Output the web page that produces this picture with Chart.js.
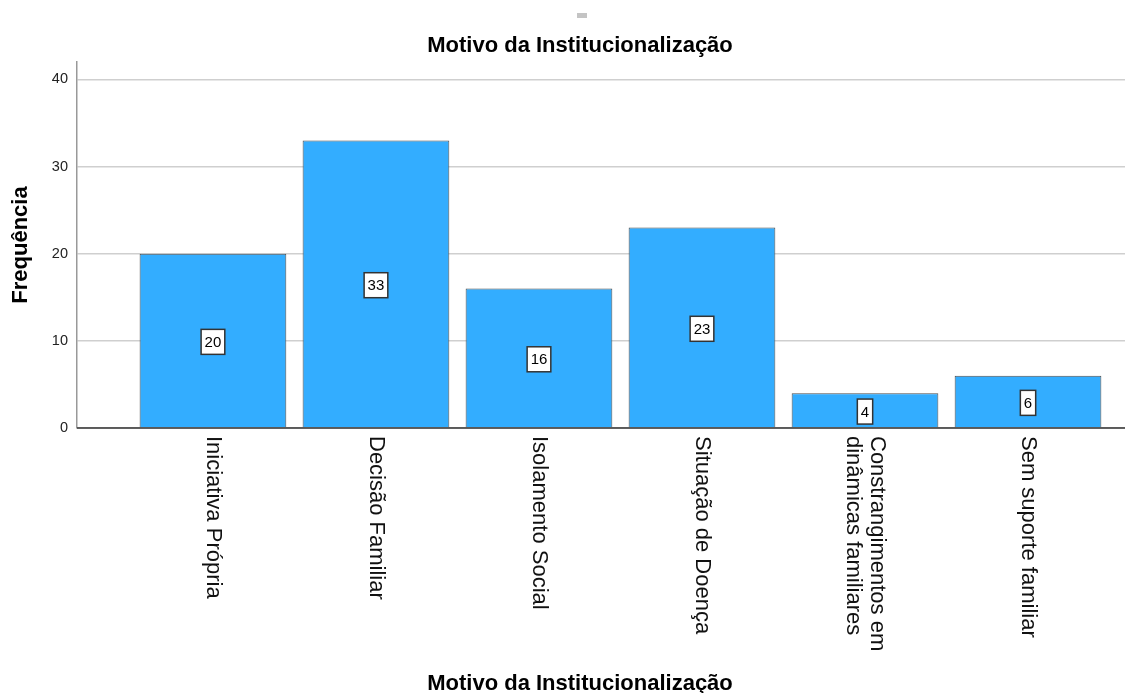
<!DOCTYPE html>
<html>
<head>
<meta charset="utf-8">
<script src="https://cdn.jsdelivr.net/npm/chart.js@4.4.1/dist/chart.umd.min.js"></script>
<style>
  html, body { margin: 0; padding: 0; background: #fff; }
  #wrap { width: 1125px; height: 693px; }
</style>
</head>
<body>
<div id="wrap"><canvas id="bar"></canvas></div>
<script>
var categorias = [
    ["Iniciativa Própria"],
    ["Decisão Familiar"],
    ["Isolamento Social"],
    ["Situação de Doença"],
    ["Constrangimentos em", "dinâmicas familiares"],
    ["Sem suporte familiar"],
];
var frequencias = [20, 33, 16, 23, 4, 6];
var ticksY = [0, 10, 20, 30, 40];
var titulo = "Motivo da Institucionalização";

var bar = document.getElementById("bar");
var fonte = "'Liberation Sans', Arial, sans-serif";

// rotulos, titulos e caixas de valores desenhados a mao
var extras = {
    id: "extras",
    afterDatasetsDraw(chart) {
        const ctx = chart.ctx;
        const x = chart.scales.x;
        const y = chart.scales.y;
        const area = chart.chartArea;
        ctx.save();

        // eixo x preto
        ctx.strokeStyle = "#333";
        ctx.lineWidth = 1.5;
        ctx.beginPath();
        ctx.moveTo(area.left, y.getPixelForValue(0));
        ctx.lineTo(area.right, y.getPixelForValue(0));
        ctx.stroke();

        // caixas com os valores
        ctx.font = "15px " + fonte;
        ctx.textAlign = "center";
        ctx.textBaseline = "middle";
        frequencias.forEach((v, i) => {
            const cx = x.getPixelForValue(i);
            const cy = y.getPixelForValue(v / 2) + 1;
            const w = ctx.measureText(String(v)).width + 7;
            const h = 25;
            ctx.fillStyle = "#fff";
            ctx.fillRect(cx - w / 2, cy - h / 2, w, h);
            ctx.strokeStyle = "#333";
            ctx.lineWidth = 1.5;
            ctx.strokeRect(cx - w / 2, cy - h / 2, w, h);
            ctx.fillStyle = "#000";
            ctx.fillText(String(v), cx, cy + 1);
        });

        // rotulos das categorias, rodados 90 graus
        ctx.font = "22px " + fonte;
        ctx.fillStyle = "#111";
        ctx.textAlign = "left";
        ctx.textBaseline = "middle";
        const lh = 24;
        categorias.forEach((linhas, i) => {
            const cx = x.getPixelForValue(i);
            ctx.save();
            ctx.translate(cx, area.bottom + 8);
            ctx.rotate(Math.PI / 2);
            linhas.forEach((t, j) => {
                const off = (j - (linhas.length - 1) / 2) * lh;
                ctx.fillText(t, 0, off);
            });
            ctx.restore();
        });

        // titulos
        ctx.font = "bold 22px " + fonte;
        ctx.fillStyle = "#000";
        ctx.textAlign = "center";
        ctx.fillText(titulo, 580, 46);
        ctx.fillText(titulo, 580, 684);

        ctx.fillStyle = "#c4c4c4";
        ctx.fillRect(577, 13, 10, 5);
        ctx.restore();
    },
};

new Chart(bar, {
    type: "bar",
    data: {
        datasets: [
            {
                label: "Frequência",
                data: frequencias.map((v, i) => ({ x: i, y: v })),
                backgroundColor: "#33adff",
                borderColor: "#4d4d4d",
                borderWidth: 1,
                barPercentage: 0.9,
                categoryPercentage: 1,
            },
        ],
    },
    options: {
        responsive: true,
        maintainAspectRatio: false,
        animation: false,
        layout: {
            padding: { top: 62, right: 0, left: 0, bottom: 0 },
        },
        scales: {
            x: {
                type: "linear",
                offset: false,
                min: -0.834,
                max: 5.595,
                afterBuildTicks: (s) => {
                    s.ticks = categorias.map((_, i) => ({ value: i }));
                },
                afterFit: (s) => {
                    s.height = 265;
                },
                ticks: { display: false },
                grid: { display: false },
                border: { display: false },
            },
            y: {
                min: 0,
                max: 42,
                afterBuildTicks: (s) => {
                    s.ticks = ticksY.map((v) => ({ value: v }));
                },
                afterFit: (s) => {
                    s.width = 77;
                },
                ticks: {
                    padding: 9,
                    color: "#222",
                    font: { size: 14.5, family: fonte },
                },
                grid: {
                    drawTicks: false,
                    color: "#cfcfcf",
                    lineWidth: 1.5,
                },
                border: { color: "#999", width: 1.5 },
                title: {
                    display: true,
                    text: "Frequência",
                    color: "#000",
                    padding: { top: 8, bottom: 0 },
                    font: { size: 22, weight: "bold", family: fonte },
                },
            },
        },
        plugins: {
            legend: { display: false },
            title: { display: false },
            tooltip: { enabled: false },
        },
    },
    plugins: [extras],
});
</script>
</body>
</html>
